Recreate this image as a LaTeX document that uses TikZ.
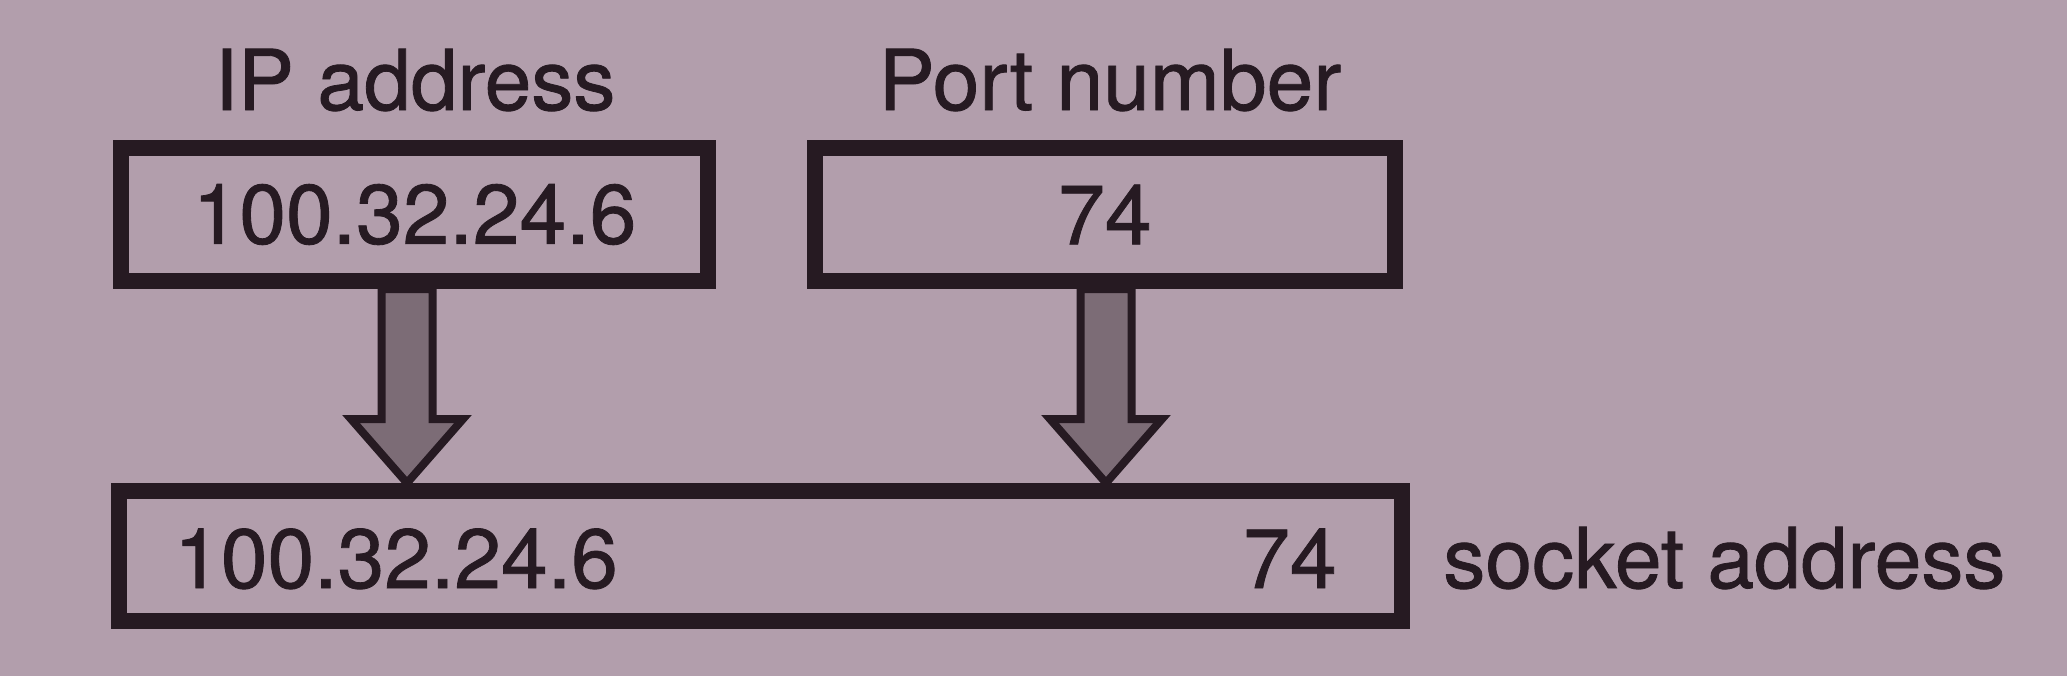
\documentclass[tikz,border=0pt]{standalone}
\usepackage{fontspec}
\setmainfont[FakeBold=1]{TeX Gyre Heros}
\usetikzlibrary{calc}
\definecolor{paper}{RGB}{178,158,172}
\definecolor{ink}{RGB}{38,26,34}
\definecolor{arrfill}{RGB}{124,108,118}
\begin{document}
\begin{tikzpicture}[x=0.5pt,y=-0.5pt,
  box/.style={draw=ink,line width=8pt,rectangle,inner sep=0pt,font=\fontsize{42}{50}\selectfont,text=ink},
  lbl/.style={inner sep=0pt,anchor=base,font=\fontsize{42}{50}\selectfont,text=ink},
  fatarr/.style={draw=ink,fill=arrfill,line width=4pt,line join=miter}]
\useasboundingbox (0,0) rectangle (2067,676);
\fill[paper] (0,0) rectangle (2067,676);
% boxes
\node[box,minimum width=293.5pt,minimum height=66.5pt] (ipbox) at (414.5,214.5) {100.32.24.6};
\node[box,minimum width=290pt,minimum height=66.5pt] (portbox) at (1105,214.5) {74};
\node[box,minimum width=641.5pt,minimum height=65pt] (sockbox) at (760.5,556) {};
% labels
\node[lbl] (iplbl) at (415,110) {IP address};
\node[lbl] (portlbl) at (1110,110) {Port number};
\node[lbl] (sip) at (396,588) {100.32.24.6};
\node[lbl] (sport) at (1290,588) {74};
\node[lbl,anchor=base west] (slbl) at (1443,588) {socket address};
% arrows
\coordinate (la) at ([xshift=-3.75pt]ipbox.south);
\coordinate (ra) at ([xshift=0.5pt]portbox.south);
\draw[fatarr] ([xshift=-12.75pt]la) -- ++(0,130) -- ++(-30.5,0) -- (la |- sockbox.north)
  -- ++(56,-64) -- ++(-30.5,0) -- ([xshift=12.75pt]la) -- cycle;
\draw[fatarr] ([xshift=-12.75pt]ra) -- ++(0,130) -- ++(-30.5,0) -- (ra |- sockbox.north)
  -- ++(56,-64) -- ++(-30.5,0) -- ([xshift=12.75pt]ra) -- cycle;
\end{tikzpicture}
\end{document}
